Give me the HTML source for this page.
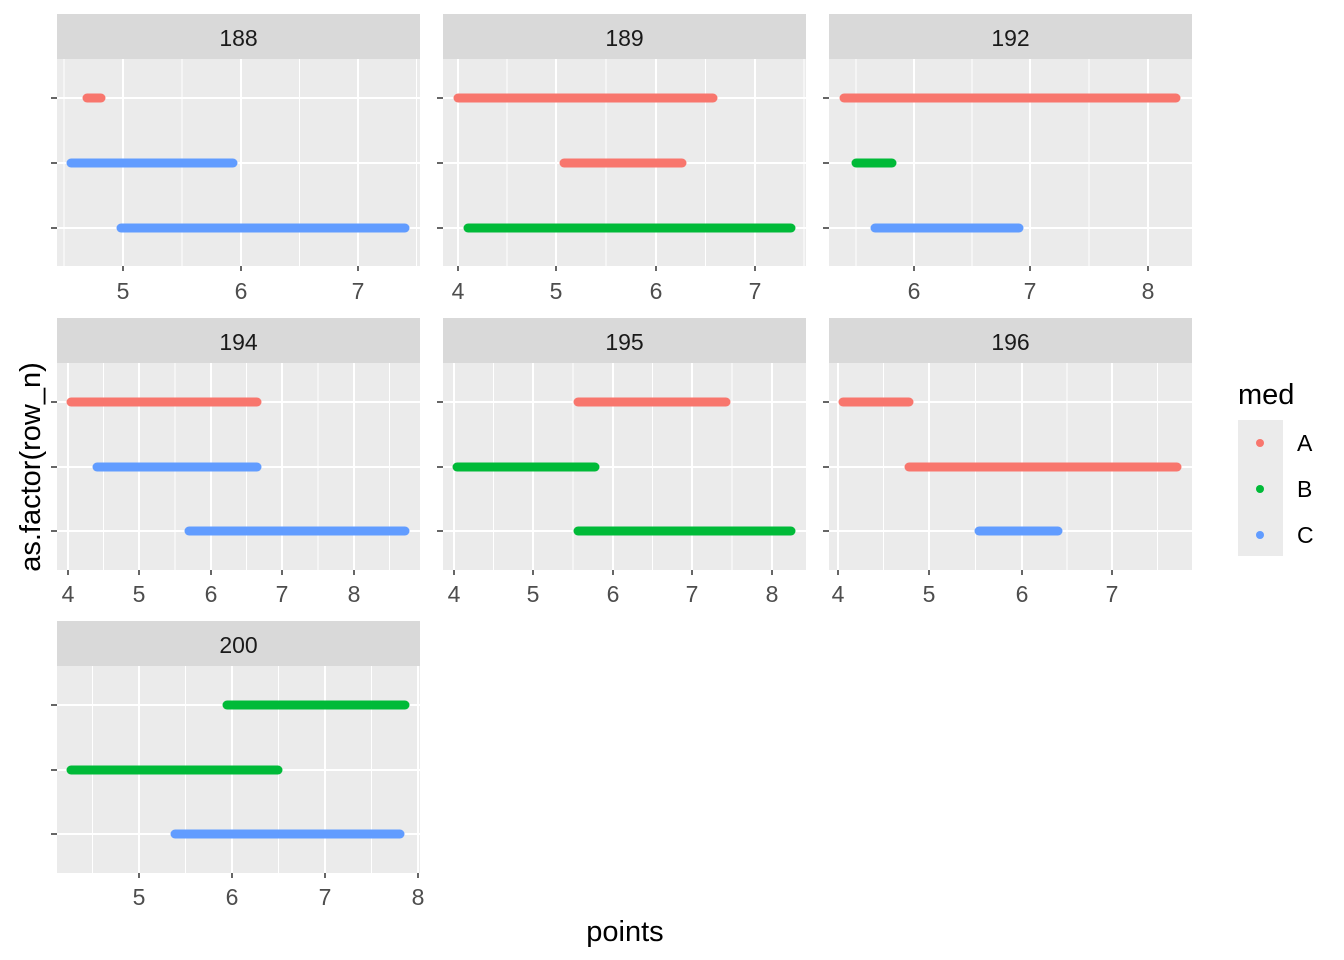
<!DOCTYPE html>
<html><head><meta charset="utf-8"><style>
body{margin:0;background:#fff}svg{display:block;font-family:"Liberation Sans",Arial,sans-serif}
.mj{stroke:#fff;stroke-width:2}.mn{stroke:#fff;stroke-width:1}.tk{stroke:#333;stroke-width:1.5}
.st{fill:#d9d9d9}.bg{fill:#ebebeb}.sl{font-size:23px;fill:#1a1a1a;text-anchor:middle}
.tl{font-size:23px;fill:#4d4d4d;text-anchor:middle}
.s{stroke-width:9;stroke-linecap:round}.R{stroke:#F8766D}.G{stroke:#00BA38}.B{stroke:#619CFF}
</style></head><body>
<svg width="1344" height="960" viewBox="0 0 1344 960">
<!-- 188 -->
<rect class="st" x="57" y="14" width="363" height="45"/><text class="sl" x="238.5" y="46">188</text>
<rect class="bg" x="57" y="59" width="363" height="207"/>
<g class="mn"><line x1="64" x2="64" y1="59" y2="266"/><line x1="182" x2="182" y1="59" y2="266"/><line x1="299.5" x2="299.5" y1="59" y2="266"/><line x1="416.5" x2="416.5" y1="59" y2="266"/></g>
<g class="mj"><line x1="123" x2="123" y1="59" y2="266"/><line x1="241" x2="241" y1="59" y2="266"/><line x1="358" x2="358" y1="59" y2="266"/>
<line x1="57" x2="420" y1="98" y2="98"/><line x1="57" x2="420" y1="163" y2="163"/><line x1="57" x2="420" y1="228" y2="228"/></g>
<g class="tk"><line x1="123" x2="123" y1="266" y2="271"/><line x1="241" x2="241" y1="266" y2="271"/><line x1="358" x2="358" y1="266" y2="271"/>
<line x1="51" x2="57" y1="98" y2="98"/><line x1="51" x2="57" y1="163" y2="163"/><line x1="51" x2="57" y1="228" y2="228"/></g>
<text class="tl" x="123" y="299">5</text><text class="tl" x="241" y="299">6</text><text class="tl" x="358" y="299">7</text>
<line class="s R" x1="87" x2="101" y1="98" y2="98"/><line class="s B" x1="71" x2="233" y1="163" y2="163"/><line class="s B" x1="121" x2="405" y1="228" y2="228"/>

<!-- 189 -->
<rect class="st" x="443" y="14" width="363" height="45"/><text class="sl" x="624.5" y="46">189</text>
<rect class="bg" x="443" y="59" width="363" height="207"/>
<g class="mn"><line x1="507" x2="507" y1="59" y2="266"/><line x1="606" x2="606" y1="59" y2="266"/><line x1="705.5" x2="705.5" y1="59" y2="266"/><line x1="804" x2="804" y1="59" y2="266"/></g>
<g class="mj"><line x1="458" x2="458" y1="59" y2="266"/><line x1="556" x2="556" y1="59" y2="266"/><line x1="656" x2="656" y1="59" y2="266"/><line x1="755" x2="755" y1="59" y2="266"/>
<line x1="443" x2="806" y1="98" y2="98"/><line x1="443" x2="806" y1="163" y2="163"/><line x1="443" x2="806" y1="228" y2="228"/></g>
<g class="tk"><line x1="458" x2="458" y1="266" y2="271"/><line x1="556" x2="556" y1="266" y2="271"/><line x1="656" x2="656" y1="266" y2="271"/><line x1="755" x2="755" y1="266" y2="271"/>
<line x1="437" x2="443" y1="98" y2="98"/><line x1="437" x2="443" y1="163" y2="163"/><line x1="437" x2="443" y1="228" y2="228"/></g>
<text class="tl" x="458" y="299">4</text><text class="tl" x="556" y="299">5</text><text class="tl" x="656" y="299">6</text><text class="tl" x="755" y="299">7</text>
<line class="s R" x1="458" x2="713" y1="98" y2="98"/><line class="s R" x1="564" x2="682" y1="163" y2="163"/><line class="s G" x1="468" x2="791" y1="228" y2="228"/>

<!-- 192 -->
<rect class="st" x="829" y="14" width="363" height="45"/><text class="sl" x="1010.5" y="46">192</text>
<rect class="bg" x="829" y="59" width="363" height="207"/>
<g class="mn"><line x1="856" x2="856" y1="59" y2="266"/><line x1="972" x2="972" y1="59" y2="266"/><line x1="1089" x2="1089" y1="59" y2="266"/></g>
<g class="mj"><line x1="914" x2="914" y1="59" y2="266"/><line x1="1030" x2="1030" y1="59" y2="266"/><line x1="1148" x2="1148" y1="59" y2="266"/>
<line x1="829" x2="1192" y1="98" y2="98"/><line x1="829" x2="1192" y1="163" y2="163"/><line x1="829" x2="1192" y1="228" y2="228"/></g>
<g class="tk"><line x1="914" x2="914" y1="266" y2="271"/><line x1="1030" x2="1030" y1="266" y2="271"/><line x1="1148" x2="1148" y1="266" y2="271"/>
<line x1="823" x2="829" y1="98" y2="98"/><line x1="823" x2="829" y1="163" y2="163"/><line x1="823" x2="829" y1="228" y2="228"/></g>
<text class="tl" x="914" y="299">6</text><text class="tl" x="1030" y="299">7</text><text class="tl" x="1148" y="299">8</text>
<line class="s R" x1="844" x2="1176" y1="98" y2="98"/><line class="s G" x1="856" x2="892" y1="163" y2="163"/><line class="s B" x1="875" x2="1019" y1="228" y2="228"/>

<!-- 194 -->
<rect class="st" x="57" y="318" width="363" height="45"/><text class="sl" x="238.5" y="350">194</text>
<rect class="bg" x="57" y="363" width="363" height="207"/>
<g class="mn"><line x1="103.5" x2="103.5" y1="363" y2="570"/><line x1="175" x2="175" y1="363" y2="570"/><line x1="246.5" x2="246.5" y1="363" y2="570"/><line x1="318" x2="318" y1="363" y2="570"/><line x1="389.5" x2="389.5" y1="363" y2="570"/></g>
<g class="mj"><line x1="68" x2="68" y1="363" y2="570"/><line x1="139" x2="139" y1="363" y2="570"/><line x1="211" x2="211" y1="363" y2="570"/><line x1="282" x2="282" y1="363" y2="570"/><line x1="354" x2="354" y1="363" y2="570"/>
<line x1="57" x2="420" y1="402" y2="402"/><line x1="57" x2="420" y1="467" y2="467"/><line x1="57" x2="420" y1="531" y2="531"/></g>
<g class="tk"><line x1="68" x2="68" y1="570" y2="575"/><line x1="139" x2="139" y1="570" y2="575"/><line x1="211" x2="211" y1="570" y2="575"/><line x1="282" x2="282" y1="570" y2="575"/><line x1="354" x2="354" y1="570" y2="575"/>
<line x1="51" x2="57" y1="402" y2="402"/><line x1="51" x2="57" y1="467" y2="467"/><line x1="51" x2="57" y1="531" y2="531"/></g>
<text class="tl" x="68" y="602">4</text><text class="tl" x="139" y="602">5</text><text class="tl" x="211" y="602">6</text><text class="tl" x="282" y="602">7</text><text class="tl" x="354" y="602">8</text>
<line class="s R" x1="71" x2="257" y1="402" y2="402"/><line class="s B" x1="97" x2="257" y1="467" y2="467"/><line class="s B" x1="189" x2="405" y1="531" y2="531"/>

<!-- 195 -->
<rect class="st" x="443" y="318" width="363" height="45"/><text class="sl" x="624.5" y="350">195</text>
<rect class="bg" x="443" y="363" width="363" height="207"/>
<g class="mn"><line x1="493.5" x2="493.5" y1="363" y2="570"/><line x1="573" x2="573" y1="363" y2="570"/><line x1="652.5" x2="652.5" y1="363" y2="570"/><line x1="732" x2="732" y1="363" y2="570"/></g>
<g class="mj"><line x1="454" x2="454" y1="363" y2="570"/><line x1="533" x2="533" y1="363" y2="570"/><line x1="613" x2="613" y1="363" y2="570"/><line x1="692" x2="692" y1="363" y2="570"/><line x1="772" x2="772" y1="363" y2="570"/>
<line x1="443" x2="806" y1="402" y2="402"/><line x1="443" x2="806" y1="467" y2="467"/><line x1="443" x2="806" y1="531" y2="531"/></g>
<g class="tk"><line x1="454" x2="454" y1="570" y2="575"/><line x1="533" x2="533" y1="570" y2="575"/><line x1="613" x2="613" y1="570" y2="575"/><line x1="692" x2="692" y1="570" y2="575"/><line x1="772" x2="772" y1="570" y2="575"/>
<line x1="437" x2="443" y1="402" y2="402"/><line x1="437" x2="443" y1="467" y2="467"/><line x1="437" x2="443" y1="531" y2="531"/></g>
<text class="tl" x="454" y="602">4</text><text class="tl" x="533" y="602">5</text><text class="tl" x="613" y="602">6</text><text class="tl" x="692" y="602">7</text><text class="tl" x="772" y="602">8</text>
<line class="s R" x1="578" x2="726" y1="402" y2="402"/><line class="s G" x1="457" x2="595" y1="467" y2="467"/><line class="s G" x1="578" x2="791" y1="531" y2="531"/>

<!-- 196 -->
<rect class="st" x="829" y="318" width="363" height="45"/><text class="sl" x="1010.5" y="350">196</text>
<rect class="bg" x="829" y="363" width="363" height="207"/>
<g class="mn"><line x1="883.5" x2="883.5" y1="363" y2="570"/><line x1="975.5" x2="975.5" y1="363" y2="570"/><line x1="1067" x2="1067" y1="363" y2="570"/><line x1="1157.5" x2="1157.5" y1="363" y2="570"/></g>
<g class="mj"><line x1="838" x2="838" y1="363" y2="570"/><line x1="929" x2="929" y1="363" y2="570"/><line x1="1022" x2="1022" y1="363" y2="570"/><line x1="1112" x2="1112" y1="363" y2="570"/>
<line x1="829" x2="1192" y1="402" y2="402"/><line x1="829" x2="1192" y1="467" y2="467"/><line x1="829" x2="1192" y1="531" y2="531"/></g>
<g class="tk"><line x1="838" x2="838" y1="570" y2="575"/><line x1="929" x2="929" y1="570" y2="575"/><line x1="1022" x2="1022" y1="570" y2="575"/><line x1="1112" x2="1112" y1="570" y2="575"/>
<line x1="823" x2="829" y1="402" y2="402"/><line x1="823" x2="829" y1="467" y2="467"/><line x1="823" x2="829" y1="531" y2="531"/></g>
<text class="tl" x="838" y="602">4</text><text class="tl" x="929" y="602">5</text><text class="tl" x="1022" y="602">6</text><text class="tl" x="1112" y="602">7</text>
<line class="s R" x1="843" x2="909" y1="402" y2="402"/><line class="s R" x1="909" x2="1177" y1="467" y2="467"/><line class="s B" x1="979" x2="1058" y1="531" y2="531"/>

<!-- 200 -->
<rect class="st" x="57" y="621" width="363" height="45"/><text class="sl" x="238.5" y="653">200</text>
<rect class="bg" x="57" y="666" width="363" height="207"/>
<g class="mn"><line x1="92.5" x2="92.5" y1="666" y2="873"/><line x1="185.5" x2="185.5" y1="666" y2="873"/><line x1="278.5" x2="278.5" y1="666" y2="873"/><line x1="371.5" x2="371.5" y1="666" y2="873"/></g>
<g class="mj"><line x1="139" x2="139" y1="666" y2="873"/><line x1="232" x2="232" y1="666" y2="873"/><line x1="325" x2="325" y1="666" y2="873"/><line x1="418" x2="418" y1="666" y2="873"/>
<line x1="57" x2="420" y1="705" y2="705"/><line x1="57" x2="420" y1="770" y2="770"/><line x1="57" x2="420" y1="834" y2="834"/></g>
<g class="tk"><line x1="139" x2="139" y1="873" y2="878"/><line x1="232" x2="232" y1="873" y2="878"/><line x1="325" x2="325" y1="873" y2="878"/><line x1="418" x2="418" y1="873" y2="878"/>
<line x1="51" x2="57" y1="705" y2="705"/><line x1="51" x2="57" y1="770" y2="770"/><line x1="51" x2="57" y1="834" y2="834"/></g>
<text class="tl" x="139" y="905">5</text><text class="tl" x="232" y="905">6</text><text class="tl" x="325" y="905">7</text><text class="tl" x="418" y="905">8</text>
<line class="s G" x1="227" x2="405" y1="705" y2="705"/><line class="s G" x1="71" x2="278" y1="770" y2="770"/><line class="s B" x1="175" x2="400" y1="834" y2="834"/>

<g font-size="29" fill="#000">
<text x="625" y="941" text-anchor="middle">points</text>
<text transform="translate(40,467) rotate(-90)" text-anchor="middle">as.factor(row_n)</text>
<text x="1238" y="404">med</text>
</g>
<rect x="1238" y="420" width="45" height="136" fill="#ebebeb"/>
<circle cx="1260" cy="443" r="4" fill="#F8766D"/><circle cx="1260" cy="489" r="4" fill="#00BA38"/><circle cx="1260" cy="535" r="4" fill="#619CFF"/>
<g font-size="23" fill="#000"><text x="1297" y="451">A</text><text x="1297" y="497">B</text><text x="1297" y="543">C</text></g>
</svg></body></html>
